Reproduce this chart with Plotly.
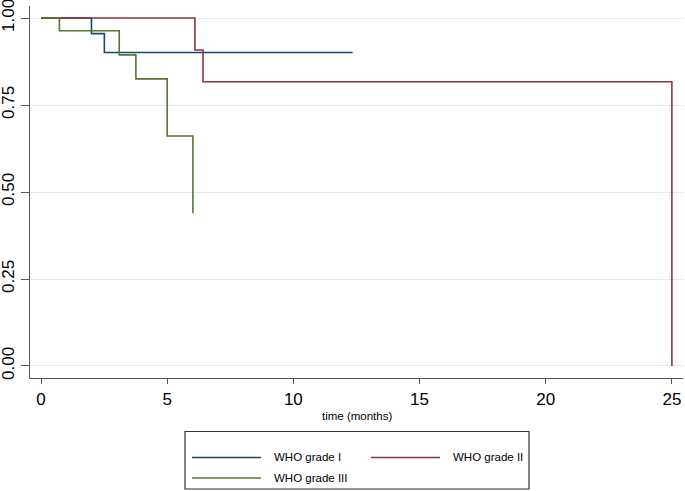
import plotly.graph_objects as go

# Kaplan-Meier survival estimates
series_names = ["WHO grade I", "WHO grade II", "WHO grade III"]
series_colors = ["#1a476f", "#90353b", "#55752f"]

grade1_time = [0, 2.0, 2.51, 12.35]
grade1_surv = [1.0, 0.955, 0.901, 0.901]

grade2_time = [0, 6.1, 6.42, 25.0]
grade2_surv = [1.0, 0.908, 0.817, 0.0]

grade3_time = [0, 0.73, 3.10, 3.76, 5.0, 6.02]
grade3_surv = [1.0, 0.9635, 0.894, 0.825, 0.661, 0.439]

x_ticks = [0, 5, 10, 15, 20, 25]
y_ticks = [0.0, 0.25, 0.5, 0.75, 1.0]
x_title = "time (months)"

FONT = "Arial, Liberation Sans, Helvetica, sans-serif"

fig = go.Figure()
for t, s, name, col in zip([grade1_time, grade2_time, grade3_time],
                           [grade1_surv, grade2_surv, grade3_surv],
                           series_names, series_colors):
    fig.add_trace(go.Scatter(x=t, y=s, mode="lines", line_shape="hv",
                             name=name, line=dict(color=col, width=1.6),
                             showlegend=False))

# plot area in pixels: left 30, right 683, top 6, bottom 378
L, R, T, B = 30, 683, 6, 378
W, H = 685, 491
def px(x):
    return (x - L) / (R - L)
def py(y):
    return (B - y) / (B - T)

fig.update_layout(
    width=W, height=H,
    margin=dict(l=L, r=W - R, t=T, b=H - B, autoexpand=False),
    plot_bgcolor="white", paper_bgcolor="white",
    font=dict(family=FONT, color="#000000"),
    xaxis=dict(range=[-0.436, 25.44], tickvals=x_ticks, ticks="outside",
               ticklen=5, tickcolor="#555555", tickwidth=1.2,
               showline=True, linecolor="#555555", linewidth=1.2,
               showgrid=False, zeroline=False, ticklabeloverflow="allow",
               tickfont=dict(size=17, family=FONT, color="#000000")),
    yaxis=dict(range=[-0.0345, 1.0345], tickvals=y_ticks, tickformat=".2f",
               ticks="outside", ticklen=8, tickcolor="#555555", tickwidth=1.2,
               showline=True, linecolor="#555555", linewidth=1.2,
               showgrid=True, gridcolor="#dfe9ee", gridwidth=1,
               zeroline=False, tickangle=-90, ticklabeloverflow="allow",
               tickfont=dict(size=17, family=FONT, color="#000000")),
)

# x-axis title
fig.add_annotation(text=x_title, xref="paper", yref="paper",
                   x=px(357), y=py(416), showarrow=False,
                   xanchor="center", yanchor="middle",
                   font=dict(size=11.5, family=FONT, color="#000000"))

# legend box
fig.add_shape(type="rect", xref="paper", yref="paper",
              x0=px(185), x1=px(529), y0=py(431.5), y1=py(489),
              line=dict(color="#333333", width=1.2), fillcolor="white",
              layer="above")
legend_pos = [(192, 261, 271.5, 457.5), (371, 440, 450.5, 457.5),
              (192, 261, 271.5, 478)]
for (x0, x1, tx, yy), name, col in zip(legend_pos, series_names, series_colors):
    fig.add_shape(type="line", xref="paper", yref="paper",
                  x0=px(x0), x1=px(x1), y0=py(yy), y1=py(yy),
                  line=dict(color=col, width=1.6), layer="above")
    fig.add_annotation(text=name, xref="paper", yref="paper",
                       x=px(tx), y=py(yy), showarrow=False,
                       xanchor="left", yanchor="middle",
                       font=dict(size=11.5, family=FONT, color="#000000"))

fig.write_html("out.html",
               config={"displayModeBar": False},
               post_script="document.body.style.margin='0';"
                           "document.body.style.overflow='hidden';")
